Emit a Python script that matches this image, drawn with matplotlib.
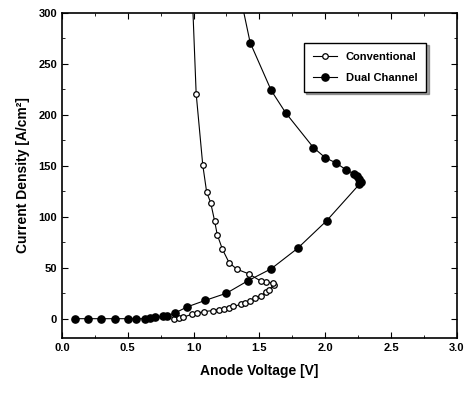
import matplotlib
matplotlib.use("Agg")
import matplotlib.pyplot as plt
from matplotlib.ticker import MultipleLocator

plt.rcParams['font.family'] = ['Liberation Sans', 'DejaVu Sans']
plt.rcParams['font.weight'] = 'bold'

# Conventional device (open circles): forward branch then snap-back branch
conv_v = [0.85, 0.89, 0.92, 0.99, 1.03, 1.08, 1.15, 1.19, 1.23, 1.27, 1.30, 1.36,
          1.39, 1.43, 1.47, 1.51, 1.55, 1.57, 1.61,
          1.60, 1.55, 1.51, 1.42, 1.33, 1.27, 1.22, 1.18, 1.16, 1.13, 1.10,
          1.07, 1.02, 0.99]
conv_j = [0.0, 0.6, 1.3, 4.5, 5.5, 7.0, 8.0, 9.0, 9.5, 10.5, 12.0, 14.0,
          15.0, 17.7, 20.0, 22.6, 26.0, 28.5, 33.0,
          35.0, 36.0, 37.0, 44.0, 48.5, 55.0, 68.0, 82.5, 96.0, 114.0, 124.0,
          151.0, 221.0, 320.0]

# Dual channel device (filled circles)
dual_v = [0.10, 0.20, 0.30, 0.40, 0.50, 0.56, 0.63, 0.67, 0.71, 0.77, 0.80,
          0.86, 0.95, 1.09, 1.25, 1.41, 1.59, 1.79, 2.01, 2.26,
          2.27, 2.26, 2.24, 2.22, 2.16, 2.08, 2.00, 1.91, 1.70, 1.59, 1.43, 1.35]
dual_j = [0.0, 0.0, 0.0, 0.0, 0.0, 0.0, 0.0, 0.7, 1.3, 2.3, 3.0,
          5.6, 11.5, 18.0, 25.0, 37.0, 49.0, 69.0, 96.0, 132.0,
          134.0, 137.0, 140.0, 142.0, 146.0, 153.0, 158.0, 168.0, 202.0, 224.0, 271.0, 320.0]

fig = plt.figure(figsize=(4.72, 3.94), dpi=100)
ax = fig.add_axes([0.131, 0.142, 0.837, 0.825])

ax.plot(conv_v, conv_j, marker='o', color='black', linewidth=0.8,
        markersize=4, markerfacecolor='white', markeredgewidth=0.9,
        label='Conventional')
ax.plot(dual_v, dual_j, marker='o', color='black', linewidth=0.8,
        markersize=5.2, markerfacecolor='black', label='Dual Channel')

ax.set_xlim(0.0, 3.0)
ax.set_ylim(-19, 300)
ax.xaxis.set_major_locator(MultipleLocator(0.5))
ax.xaxis.set_minor_locator(MultipleLocator(0.25))
ax.yaxis.set_major_locator(MultipleLocator(50))
ax.yaxis.set_minor_locator(MultipleLocator(25))
ax.xaxis.set_major_formatter(matplotlib.ticker.FormatStrFormatter('%.1f'))
ax.tick_params(which='both', direction='in', top=True, right=True, labelsize=8)
ax.tick_params(which='major', length=4)
ax.tick_params(which='minor', length=2)
for s in ax.spines.values():
    s.set_linewidth(1.2)

ax.set_xlabel('Anode Voltage [V]', fontsize=10, fontweight='bold', labelpad=8)
ax.set_ylabel('Current Density [A/cm²]', fontsize=10, fontweight='bold', labelpad=6)

leg = ax.legend(loc='upper right', bbox_to_anchor=(0.937, 0.926), fontsize=8,
                frameon=True, fancybox=False, shadow=True, edgecolor='black',
                handlelength=2.2, borderpad=0.8, labelspacing=1.0)
leg.get_frame().set_linewidth(1.0)

plt.savefig("out.png", dpi=100)
plt.close()
